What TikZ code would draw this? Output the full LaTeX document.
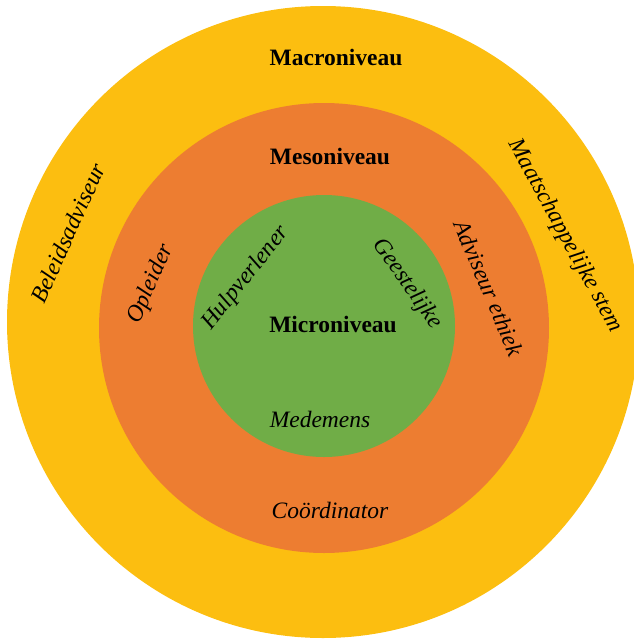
\documentclass[tikz,border=0pt]{standalone}
\usepackage{fontspec}
\setmainfont{Liberation Serif}
\definecolor{macroyellow}{RGB}{252,190,16}
\definecolor{mesoorange}{RGB}{237,125,49}
\definecolor{microgreen}{RGB}{112,173,71}
\tikzset{
  lvl/.style={font=\fontsize{23.5}{28}\selectfont\bfseries, inner sep=0pt},
  role/.style={font=\fontsize{23.5}{28}\selectfont\itshape, inner sep=0pt}
}
\begin{document}
\begin{tikzpicture}[x=1pt,y=-1pt]
\useasboundingbox (0,0) rectangle (634,641);
\begin{scope}
\clip (0,0) rectangle (634,641);
\fill[macroyellow] (323,322) circle[radius=316pt];
\fill[mesoorange] (324,328) circle[radius=225pt];
\fill[microgreen] (324,326) circle[radius=131pt];
\end{scope}
\node[lvl] (macro) at (336,57) {Macroniveau};
\node[lvl] (meso) at (330,156) {Mesoniveau};
\node[lvl] (micro) at (333,324) {Microniveau};
\node[role] (medemens) at (320,419) {Medemens};
\node[role] (coord) at (330,510) {Coördinator};
\node[role, rotate=66] (beleid) at (68,233) {Beleidsadviseur};
\node[role, rotate=66.5] (opleider) at (151,284) {Opleider};
\node[role, rotate=51.5] (hulp) at (246,278) {Hulpverlener};
\node[role, rotate=-55] (geest) at (407,284) {Geestelijke};
\node[role, rotate=-67] (advis) at (489,288) {Adviseur ethiek};
\node[role, rotate=-61.5] (maat) at (565,236) {Maatschappelijke stem};
\end{tikzpicture}
\end{document}
